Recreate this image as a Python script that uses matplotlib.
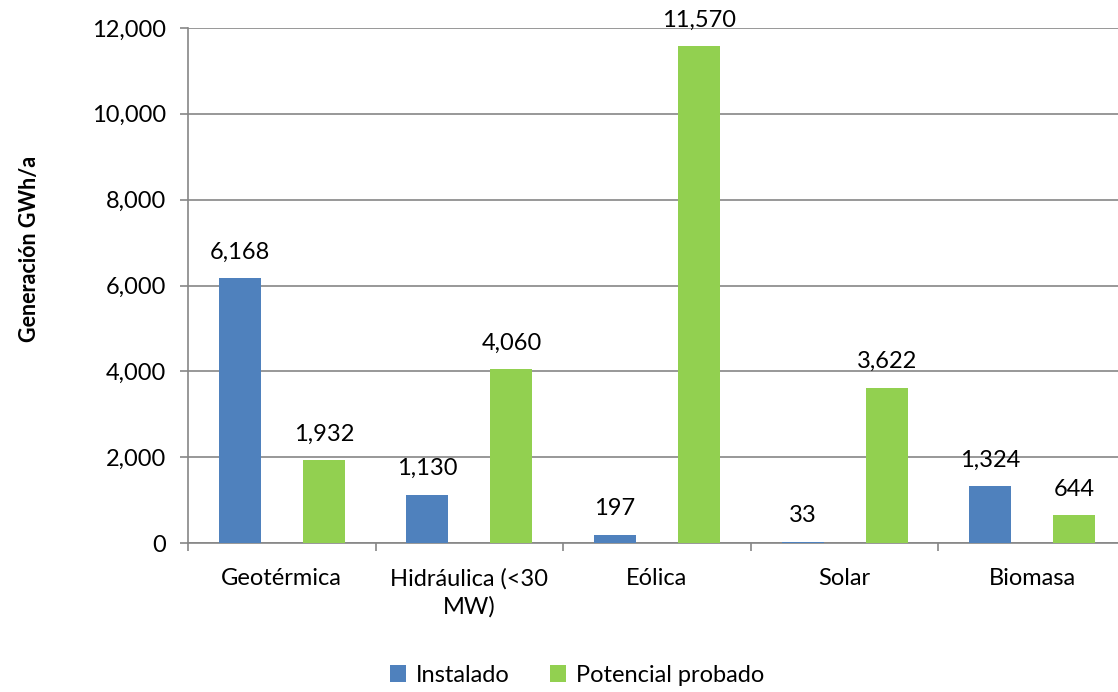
import matplotlib.pyplot as plt
import numpy as np
from matplotlib.ticker import FuncFormatter

categories = ["Geotérmica", "Hidráulica (<30\nMW)", "Eólica", "Solar", "Biomasa"]
instalado = [6168, 1130, 197, 33, 1324]
potencial = [1932, 4060, 11570, 3622, 644]

blue = "#4F81BD"
green = "#92D050"
grid_c = "#868686"

plt.rcParams["font.family"] = ["Lato", "DejaVu Sans"]

fig = plt.figure(figsize=(11.18, 6.92), dpi=100)
ax = fig.add_axes([188 / 1118, 1 - 543 / 692, (1126 - 188) / 1118, (543 - 28) / 692])

x = np.arange(len(categories))
w = 0.224
b1 = ax.bar(x - w, instalado, w, color=blue, label="Instalado", zorder=3)
b2 = ax.bar(x + w, potencial, w, color=green, label="Potencial probado", zorder=3)

for bars in (b1, b2):
    for r in bars:
        ax.annotate(f"{r.get_height():,.0f}", (r.get_x() + r.get_width() / 2, r.get_height()),
                    xytext=(0, 11), textcoords="offset points", ha="center", va="bottom",
                    fontsize=17, color="#000000")

ax.set_xlim(-0.5, len(categories) - 0.5)
ax.set_ylim(0, 12000)
ax.set_yticks(range(0, 12001, 2000))
ax.yaxis.set_major_formatter(FuncFormatter(lambda v, p: f"{v:,.0f}"))
ax.yaxis.grid(True, color=grid_c, linewidth=1.2, zorder=0)

ax.set_xticks(x)
ax.set_xticklabels(categories, multialignment="center", linespacing=1.35)
ax.set_xticks(np.arange(-0.5, len(categories)), minor=True)
ax.tick_params(axis="x", which="major", length=0, pad=18, labelsize=17)
ax.tick_params(axis="x", which="minor", length=6, color=grid_c, width=1.2)
ax.tick_params(axis="y", length=6, color=grid_c, width=1.2, labelsize=17, pad=10)

for s in ("top", "right"):
    ax.spines[s].set_visible(False)
for s in ("left", "bottom"):
    ax.spines[s].set_color(grid_c)
    ax.spines[s].set_linewidth(1.2)

fig.text(30 / 1118, 1 - 249 / 692, "Generación GWh/a", rotation=90, ha="center", va="center",
         fontsize=15.5, fontweight="bold")

fig.legend(loc="center", bbox_to_anchor=(0.516, 1 - 675 / 692), ncol=2, frameon=False,
           fontsize=17, handlelength=0.7, handleheight=0.7, columnspacing=1.7, handletextpad=0.4)

fig.savefig("out.png", dpi=100)
